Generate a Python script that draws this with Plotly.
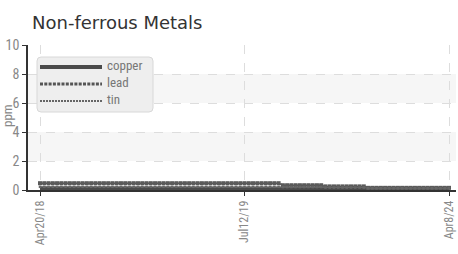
import plotly.graph_objects as go

# ---- data ----
tick_labels = ["Apr20/18", "Jul12/19", "Apr8/24"]
tick_positions = [0, 48, 96]

copper = [
    0.10, 0.10, 0.10, 0.10, 0.10, 0.10, 0.10, 0.10, 0.10, 0.10,
    0.10, 0.10, 0.10, 0.10, 0.10, 0.10, 0.10, 0.10, 0.10, 0.10,
    0.10, 0.10, 0.10, 0.10, 0.10, 0.10, 0.10, 0.10, 0.10, 0.10,
    0.10, 0.10, 0.10, 0.10, 0.10, 0.10, 0.10, 0.10, 0.10, 0.10,
    0.10, 0.10, 0.10, 0.10, 0.10, 0.10, 0.10, 0.10, 0.10, 0.10,
    0.10, 0.10, 0.10, 0.10, 0.10, 0.10, 0.10, 0.10, 0.10, 0.10,
    0.10, 0.10, 0.10, 0.10, 0.10, 0.10, 0.10, 0.10, 0.10, 0.10,
    0.10, 0.10, 0.10, 0.10, 0.10, 0.10, 0.10, 0.10, 0.10, 0.10,
    0.10, 0.10, 0.10, 0.10, 0.10, 0.10, 0.10, 0.10, 0.10, 0.10,
    0.10, 0.10, 0.10, 0.10, 0.10, 0.10, 0.10,
]
lead = [
    0.47, 0.47, 0.47, 0.47, 0.47, 0.47, 0.47, 0.47, 0.47, 0.47,
    0.47, 0.47, 0.47, 0.47, 0.47, 0.47, 0.47, 0.47, 0.47, 0.47,
    0.47, 0.47, 0.47, 0.47, 0.47, 0.47, 0.47, 0.47, 0.47, 0.47,
    0.47, 0.47, 0.47, 0.47, 0.47, 0.47, 0.47, 0.47, 0.47, 0.47,
    0.47, 0.47, 0.47, 0.47, 0.47, 0.47, 0.47, 0.47, 0.47, 0.47,
    0.47, 0.47, 0.47, 0.47, 0.47, 0.47, 0.47, 0.33, 0.33, 0.33,
    0.33, 0.33, 0.33, 0.33, 0.33, 0.33, 0.33, 0.25, 0.25, 0.25,
    0.25, 0.25, 0.25, 0.25, 0.25, 0.25, 0.25, 0.15, 0.15, 0.15,
    0.15, 0.15, 0.15, 0.15, 0.15, 0.15, 0.15, 0.15, 0.15, 0.15,
    0.15, 0.15, 0.15, 0.15, 0.15, 0.15, 0.15,
]
tin = [
    0.22, 0.22, 0.22, 0.22, 0.22, 0.22, 0.22, 0.22, 0.22, 0.22,
    0.22, 0.22, 0.22, 0.22, 0.22, 0.22, 0.22, 0.22, 0.22, 0.22,
    0.22, 0.22, 0.22, 0.22, 0.22, 0.22, 0.22, 0.22, 0.22, 0.22,
    0.22, 0.22, 0.22, 0.22, 0.22, 0.22, 0.22, 0.22, 0.22, 0.22,
    0.22, 0.22, 0.22, 0.22, 0.22, 0.22, 0.22, 0.22, 0.22, 0.22,
    0.22, 0.22, 0.22, 0.22, 0.22, 0.22, 0.22, 0.20, 0.20, 0.20,
    0.20, 0.20, 0.20, 0.20, 0.20, 0.20, 0.20, 0.17, 0.17, 0.17,
    0.17, 0.17, 0.17, 0.17, 0.17, 0.17, 0.17, 0.12, 0.12, 0.12,
    0.12, 0.12, 0.12, 0.12, 0.12, 0.12, 0.12, 0.12, 0.12, 0.12,
    0.12, 0.12, 0.12, 0.12, 0.12, 0.12, 0.12,
]
series_names = ["copper", "lead", "tin"]
y_range = [0, 10]
y_ticks = [0, 2, 4, 6, 8, 10]
bands = [(2, 4), (6, 8)]

idx = list(range(len(copper)))

W, H = 458, 254
L, R, T, B = 28, 2, 45, 64
PW, PH = W - L - R, H - T - B

COND = "Liberation Sans Narrow, Roboto Condensed, Arial Narrow, sans-serif"

fig = go.Figure()
fig.add_trace(go.Scatter(x=idx, y=copper, mode="lines", name=series_names[0],
                         line=dict(color="#4a4a4a", width=4), showlegend=False))
fig.add_trace(go.Scatter(x=idx, y=lead, mode="lines+markers", name=series_names[1],
                         line=dict(color="#555555", width=1.5),
                         marker=dict(symbol="square", size=4, color="#5a5a5a",
                                     line=dict(width=0)), showlegend=False))
fig.add_trace(go.Scatter(x=idx, y=tin, mode="lines+markers", name=series_names[2],
                         line=dict(color="#666666", width=1),
                         marker=dict(symbol="square", size=2.5, color="#666666",
                                     line=dict(width=0)), showlegend=False))

shapes = []
for lo, hi in bands:
    shapes.append(dict(type="rect", xref="paper", yref="y", x0=0, x1=1, y0=lo, y1=hi,
                       fillcolor="#f6f6f6", line=dict(width=0), layer="below"))

# custom legend (pixel helpers)
def px(x):
    return (x - L) / PW

def py(y):
    return (T + PH - y) / PH

bx0, bx1, by0, by1, r = 37, 153, 57, 112, 4
path = (f"M {px(bx0 + r)},{py(by0)} L {px(bx1 - r)},{py(by0)} "
        f"Q {px(bx1)},{py(by0)} {px(bx1)},{py(by0 + r)} L {px(bx1)},{py(by1 - r)} "
        f"Q {px(bx1)},{py(by1)} {px(bx1 - r)},{py(by1)} L {px(bx0 + r)},{py(by1)} "
        f"Q {px(bx0)},{py(by1)} {px(bx0)},{py(by1 - r)} L {px(bx0)},{py(by0 + r)} "
        f"Q {px(bx0)},{py(by0)} {px(bx0 + r)},{py(by0)} Z")
shapes.append(dict(type="path", xref="paper", yref="paper", path=path,
                   fillcolor="#eeeeee", line=dict(color="#d8d8d8", width=1), layer="above"))

leg_rows = [(67, 4, "solid", "#4a4a4a"), (84, 3, "3px,1.3px", "#555555"),
            (101, 2, "2px,1px", "#666666")]
annotations = []
for (yy, w, dash, col), name in zip(leg_rows, series_names):
    shapes.append(dict(type="line", xref="paper", yref="paper", x0=px(40), x1=px(102),
                       y0=py(yy), y1=py(yy), line=dict(color=col, width=w, dash=dash),
                       layer="above"))
    annotations.append(dict(text=name, xref="paper", yref="paper", x=px(105), y=py(yy - 1.5),
                            xanchor="left", yanchor="middle", showarrow=False,
                            font=dict(family=COND, size=13, color="#777777")))

annotations.append(dict(text="ppm", xref="paper", yref="paper", x=px(7), y=py(116),
                        xanchor="center", yanchor="middle", textangle=-90, showarrow=False,
                        font=dict(family=COND, size=13, color="#888888")))

fig.update_layout(
    width=W, height=H,
    margin=dict(l=L, r=R, t=T, b=B, autoexpand=False),
    paper_bgcolor="white", plot_bgcolor="white",
    title=dict(text="Non-ferrous Metals", xref="container", yref="container",
               x=32 / W, xanchor="left", y=1 - 23 / H, yanchor="middle",
               font=dict(family="DejaVu Sans", size=18, color="#333333")),
    shapes=shapes, annotations=annotations,
    xaxis=dict(range=[-2.82, 97.64], tickvals=tick_positions, ticktext=tick_labels,
               tickangle=-90, showline=True, linecolor="#333333", linewidth=1.5,
               ticks="outside", ticklen=4, tickcolor="#333333", automargin=False,
               showgrid=True, gridcolor="#dddddd", griddash="dash", zeroline=False,
               tickfont=dict(family=COND, size=12, color="#888888")),
    yaxis=dict(range=y_range, tickvals=y_ticks, showline=True, linecolor="#333333",
               linewidth=1.5, ticks="outside", ticklen=4, tickcolor="#333333",
               automargin=False,
               showgrid=True, gridcolor="#dddddd", griddash="dash", zeroline=False,
               tickfont=dict(family=COND, size=14, color="#888888")),
)

fig.write_html("out.html", config={"displayModeBar": False},
               post_script="document.body.style.margin='0';")
